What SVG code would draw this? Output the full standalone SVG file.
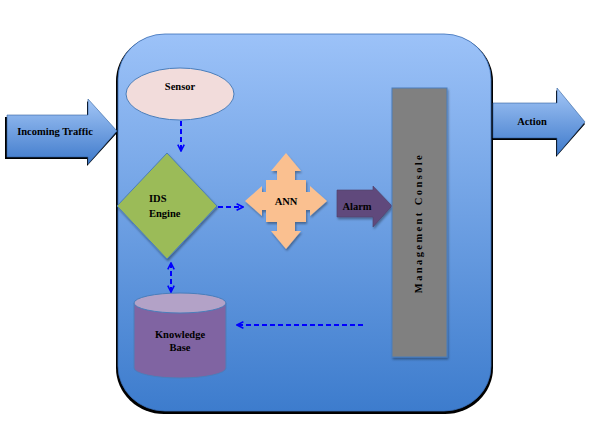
<svg xmlns="http://www.w3.org/2000/svg" width="592" height="424" viewBox="0 0 592 424">
<defs>
<linearGradient id="gMain" x1="0" y1="0" x2="0" y2="1">
<stop offset="0" stop-color="#9cc2f8"/>
<stop offset="1" stop-color="#3d7ccd"/>
</linearGradient>
<linearGradient id="gArrow" x1="0" y1="0" x2="0" y2="1">
<stop offset="0" stop-color="#a3c6f6"/>
<stop offset="1" stop-color="#3f7acb"/>
</linearGradient>
<marker id="ah" viewBox="0 0 10 10" refX="9" refY="5" markerWidth="4" markerHeight="4" orient="auto-start-reverse" markerUnits="strokeWidth">
<path d="M1,1 L9,5 L1,9" fill="none" stroke="#0000ff" stroke-width="2"/>
</marker>
<filter id="sh" x="-10%" y="-10%" width="120%" height="130%">
<feDropShadow dx="1" dy="2" stdDeviation="1" flood-color="#000" flood-opacity="0.35"/>
</filter>
</defs>
<style>
.t{font-family:"Liberation Serif","Times New Roman",serif;font-weight:bold;font-size:10.5px;fill:#000;text-anchor:middle}
.tl{font-family:"Liberation Serif","Times New Roman",serif;font-weight:bold;font-size:10.5px;fill:#000}
.dash{fill:none;stroke:#0000ff;stroke-width:2;stroke-dasharray:5,3}
.edge{stroke:#4a7ebb;stroke-width:1}
</style>
<g id="container">
<rect x="116" y="35" width="377" height="379" rx="48" ry="46" fill="#000"/>
<rect x="118" y="34" width="373" height="377" rx="47" ry="45" fill="url(#gMain)" stroke="#3a6fb8" stroke-width="0.8"/>
</g>
<g id="incoming">
<polygon points="5,117 87,117 87,101 117,133 87,166 87,159 5,159" fill="#000"/>
<polygon points="7,115 88,115 88,99 117,131 88,164 88,157 7,157" fill="url(#gArrow)" stroke="#2f5f9e" stroke-width="0.6"/>
<text class="t" x="55" y="135">Incoming Traffic</text>
</g>
<g id="action">
<polygon points="492,105 556,105 556,90 585,124 556,157 556,140 492,140" fill="#000"/>
<polygon points="493,103 557,103 557,88 585,122 557,155 557,138 493,138" fill="url(#gArrow)" stroke="#2f5f9e" stroke-width="0.6"/>
<text class="t" x="532" y="125">Action</text>
</g>
<g id="sensor">
<ellipse cx="180" cy="94" rx="54" ry="26" fill="#f2dcdb" class="edge"/>
<text class="t" x="180" y="90">Sensor</text>
</g>
<g id="ids-engine">
<polygon points="167,153 217,206 167,259 117,206" fill="#9bbb59" class="edge" filter="url(#sh)"/>
<text class="tl" x="149" y="202">IDS</text>
<text class="tl" x="149" y="217">Engine</text>
</g>
<g id="ann">
<polygon points="286,153 301,171 295,171 295,180 306,180 306,192 310,192 310,186 327,201 310,216 310,210 306,210 306,222 295,222 295,231 301,231 286,249 271,231 277,231 277,222 266,222 266,210 262,210 262,216 245,201 262,186 262,192 266,192 266,180 277,180 277,171 271,171" fill="#fac090" filter="url(#sh)"/>
<text class="t" x="286" y="205">ANN</text>
</g>
<g id="alarm">
<polygon points="337,190 373,190 373,186 392,206 373,227 373,217 337,217" fill="#604a7b" stroke="#4e3d66" stroke-width="0.6" filter="url(#sh)"/>
<text class="t" x="357" y="210">Alarm</text>
</g>
<g id="console">
<rect x="392" y="88" width="55" height="269" fill="#808080" class="edge" filter="url(#sh)"/>
<text class="t" transform="translate(422,223) rotate(-90)" style="letter-spacing:2.4px">Management Console</text>
</g>
<g id="knowledge-base">
<path d="M134,303 L134,368 A46,10 0 0 0 226,368 L226,303 Z" fill="#8064a2" class="edge"/>
<ellipse cx="180" cy="303" rx="46" ry="10" fill="#b3a2c7" class="edge"/>
<text class="t" x="180" y="338">Knowledge</text>
<text class="t" x="180" y="351">Base</text>
</g>
<g id="connectors">
<line class="dash" x1="181" y1="121" x2="181" y2="151" marker-end="url(#ah)"/>
<line class="dash" x1="218" y1="207" x2="243" y2="207" marker-end="url(#ah)"/>
<line class="dash" x1="171" y1="263" x2="171" y2="292" marker-start="url(#ah)" marker-end="url(#ah)"/>
<line class="dash" x1="363" y1="325" x2="237" y2="325" marker-end="url(#ah)"/>
</g>
</svg>
